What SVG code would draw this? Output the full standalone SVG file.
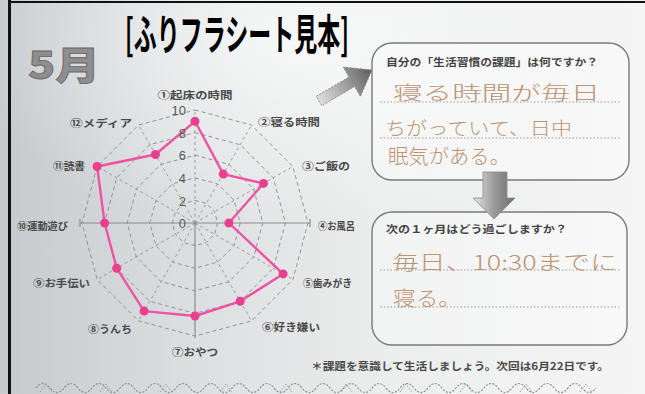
<svg xmlns="http://www.w3.org/2000/svg" width="645" height="394" viewBox="0 0 645 394">
<defs>
<linearGradient id="bg" x1="0" y1="0" x2="1" y2="0">
<stop offset="0" stop-color="#c6cacd"/>
<stop offset="0.3" stop-color="#dcdfe0"/>
<stop offset="0.6" stop-color="#eceded"/>
<stop offset="1" stop-color="#f5f5f5"/>
</linearGradient>
<radialGradient id="hl" cx="0.45" cy="0.1" r="0.5">
<stop offset="0" stop-color="#ffffff" stop-opacity="0.7"/>
<stop offset="1" stop-color="#ffffff" stop-opacity="0"/>
</radialGradient>
<linearGradient id="arrD" x1="0" y1="0" x2="1" y2="0">
<stop offset="0" stop-color="#e6e6e6"/>
<stop offset="0.5" stop-color="#9a9a9a"/>
<stop offset="1" stop-color="#6e6e6e"/>
</linearGradient>
<linearGradient id="arrA" x1="316" y1="101" x2="372" y2="70" gradientUnits="userSpaceOnUse">
<stop offset="0" stop-color="#e4e4e4"/>
<stop offset="0.55" stop-color="#9c9c9c"/>
<stop offset="1" stop-color="#5e5e5e"/>
</linearGradient>
<style>
.lbl{font-family:"Noto Sans CJK JP","Noto Sans",sans-serif;font-size:10.5px;fill:#4a4a4a;font-weight:bold}
.num{font-family:"Liberation Sans",Arial,sans-serif;font-size:13px;fill:#5a5a5a;text-anchor:end}
.ring{fill:none;stroke:#8a8a8a;stroke-width:0.9;stroke-dasharray:4 3}
.spoke{stroke:#8a8a8a;stroke-width:0.8;stroke-dasharray:3 3}
.axis{stroke:#8c8c8c;stroke-width:1.2}
.box{fill:#ffffff;fill-opacity:0.35;stroke:#7a7a7a;stroke-width:1.4}
.dot{stroke:#9a9a9a;stroke-width:1;stroke-dasharray:1.5 2}
.q{font-family:"Noto Sans CJK JP","Noto Sans",sans-serif;font-size:10.5px;fill:#444;font-weight:bold}
.hw{font-family:"Noto Sans CJK JP","Noto Sans",sans-serif;font-weight:300;fill:#bb9272}
.data{fill:none;stroke:#ef52a3;stroke-width:2.4;stroke-linejoin:round}
.pt{fill:#e8408f}
</style>
</defs>

<rect width="645" height="394" fill="url(#bg)"/>
<rect width="645" height="394" fill="url(#hl)"/>
<line x1="9.5" y1="0" x2="9.5" y2="394" stroke="#111" stroke-width="3"/>
<line x1="8" y1="2" x2="645" y2="2" stroke="#111" stroke-width="2"/>

<g id="month">
<text x="28" y="79" font-family="'Noto Sans CJK JP',sans-serif" font-weight="900" font-size="38" fill="#8e8e8e" stroke="#666" stroke-width="0.8" textLength="72" lengthAdjust="spacingAndGlyphs">5月</text>
</g>

<g id="title">
<text transform="translate(125,50) scale(0.615,1)" x="0" y="0" font-family="'Noto Sans CJK JP',sans-serif" font-weight="bold" font-size="42" fill="#000" textLength="364" lengthAdjust="spacingAndGlyphs">[ふりフラシート見本]</text>
</g>

<g id="radar">
<g transform="translate(195,223)">
<polygon class="ring" points="0,-113 56.5,-97.9 97.9,-56.5 113,0 97.9,56.5 56.5,97.9 0,113 -56.5,97.9 -97.9,56.5 -113,0 -97.9,-56.5 -56.5,-97.9"/>
<polygon class="ring" points="0,-90.4 45.2,-78.3 78.3,-45.2 90.4,0 78.3,45.2 45.2,78.3 0,90.4 -45.2,78.3 -78.3,45.2 -90.4,0 -78.3,-45.2 -45.2,-78.3"/>
<polygon class="ring" points="0,-67.8 33.9,-58.7 58.7,-33.9 67.8,0 58.7,33.9 33.9,58.7 0,67.8 -33.9,58.7 -58.7,33.9 -67.8,0 -58.7,-33.9 -33.9,-58.7"/>
<polygon class="ring" points="0,-45.2 22.6,-39.1 39.1,-22.6 45.2,0 39.1,22.6 22.6,39.1 0,45.2 -22.6,39.1 -39.1,22.6 -45.2,0 -39.1,-22.6 -22.6,-39.1"/>
<polygon class="ring" points="0,-22.6 11.3,-19.6 19.6,-11.3 22.6,0 19.6,11.3 11.3,19.6 0,22.6 -11.3,19.6 -19.6,11.3 -22.6,0 -19.6,-11.3 -11.3,-19.6"/>
<line class="spoke" x1="0" y1="0" x2="56.5" y2="-97.9"/>
<line class="spoke" x1="0" y1="0" x2="97.9" y2="-56.5"/>
<line class="spoke" x1="0" y1="0" x2="97.9" y2="56.5"/>
<line class="spoke" x1="0" y1="0" x2="56.5" y2="97.9"/>
<line class="spoke" x1="0" y1="0" x2="-56.5" y2="97.9"/>
<line class="spoke" x1="0" y1="0" x2="-97.9" y2="56.5"/>
<line class="spoke" x1="0" y1="0" x2="-97.9" y2="-56.5"/>
<line class="spoke" x1="0" y1="0" x2="-56.5" y2="-97.9"/>
<line class="spoke" x1="0" y1="0" x2="0" y2="-113"/>
<line class="axis" x1="-115" y1="0" x2="115" y2="0"/>
<line class="axis" x1="0" y1="0" x2="0" y2="115"/>
<line class="axis" x1="115" y1="-4" x2="115" y2="4"/>
<line class="axis" x1="-115" y1="-4" x2="-115" y2="4"/>
<polygon class="data" points="0,-101.7 28.3,-48.9 68.5,-39.6 33.9,0 88.1,50.9 45.2,78.3 0,93 -50.9,88.1 -78.3,45.2 -90.4,0 -97.9,-56.5 -39.6,-68.5"/>
<g class="pt">
<circle cx="0" cy="-101.7" r="4.5"/>
<circle cx="28.3" cy="-48.9" r="4.5"/>
<circle cx="68.5" cy="-39.6" r="4.5"/>
<circle cx="33.9" cy="0" r="4.5"/>
<circle cx="88.1" cy="50.9" r="4.5"/>
<circle cx="45.2" cy="78.3" r="4.5"/>
<circle cx="0" cy="93" r="4.5"/>
<circle cx="-50.9" cy="88.1" r="4.5"/>
<circle cx="-78.3" cy="45.2" r="4.5"/>
<circle cx="-90.4" cy="0" r="4.5"/>
<circle cx="-97.9" cy="-56.5" r="4.5"/>
<circle cx="-39.6" cy="-68.5" r="4.5"/>
</g>
</g>
<text class="num" x="186" y="115">10</text>
<text class="num" x="186" y="138">8</text>
<text class="num" x="186" y="160">6</text>
<text class="num" x="186" y="183">4</text>
<text class="num" x="186" y="206">2</text>
<text class="num" x="186" y="228">0</text>
<text class="lbl" x="195" y="99" text-anchor="middle" textLength="75" lengthAdjust="spacingAndGlyphs">①起床の時間</text>
<text class="lbl" x="258" y="126" textLength="62" lengthAdjust="spacingAndGlyphs">②寝る時間</text>
<text class="lbl" x="302" y="170" textLength="48" lengthAdjust="spacingAndGlyphs">③ご飯の</text>
<text class="lbl" x="318" y="230" textLength="37" lengthAdjust="spacingAndGlyphs">④お風呂</text>
<text class="lbl" x="303" y="287" textLength="49" lengthAdjust="spacingAndGlyphs">⑤歯みがき</text>
<text class="lbl" x="262" y="331" textLength="58" lengthAdjust="spacingAndGlyphs">⑥好き嫌い</text>
<text class="lbl" x="195" y="356" text-anchor="middle" textLength="46" lengthAdjust="spacingAndGlyphs">⑦おやつ</text>
<text class="lbl" x="88" y="333" textLength="44" lengthAdjust="spacingAndGlyphs">⑧うんち</text>
<text class="lbl" x="33" y="287" textLength="57" lengthAdjust="spacingAndGlyphs">⑨お手伝い</text>
<text class="lbl" x="17" y="230" textLength="51" lengthAdjust="spacingAndGlyphs">⑩運動遊び</text>
<text class="lbl" x="53" y="170" textLength="32" lengthAdjust="spacingAndGlyphs">⑪読書</text>
<text class="lbl" x="70" y="127" textLength="62" lengthAdjust="spacingAndGlyphs">⑫メディア</text>
</g>

<g id="box-issue">
<rect class="box" x="372" y="43" width="257" height="137" rx="20"/>
<text class="q" x="386" y="66" textLength="212" lengthAdjust="spacingAndGlyphs">自分の「生活習慣の課題」は何ですか？</text>
<line class="dot" x1="380" y1="102" x2="620" y2="102"/>
<line class="dot" x1="380" y1="138" x2="620" y2="138"/>
<text class="hw" x="393" y="100" font-size="19" textLength="207" lengthAdjust="spacingAndGlyphs">寝る時間が毎日</text>
<text class="hw" x="385" y="135" font-size="18" textLength="187" lengthAdjust="spacingAndGlyphs">ちがっていて、日中</text>
<text class="hw" x="388" y="164" font-size="20" textLength="122" lengthAdjust="spacingAndGlyphs">眠気がある。</text>
</g>

<g id="box-plan">
<rect class="box" x="372" y="212" width="255" height="133" rx="20"/>
<text class="q" x="386" y="233" textLength="181" lengthAdjust="spacingAndGlyphs">次の１ヶ月はどう過ごしますか？</text>
<line class="dot" x1="380" y1="270" x2="620" y2="270"/>
<line class="dot" x1="380" y1="307" x2="620" y2="307"/>
<text class="hw" x="392" y="270" font-size="20" textLength="225" lengthAdjust="spacingAndGlyphs">毎日、10:30までに</text>
<text class="hw" x="393" y="306" font-size="20" textLength="68" lengthAdjust="spacingAndGlyphs">寝る。</text>
</g>

<g id="connectors">
<polygon points="316.2,96.3 349,77.1 343.2,67.1 372,70 360.4,96.5 354.6,86.5 321.8,105.7" fill="url(#arrA)" stroke="#8a8a8a" stroke-width="1" stroke-dasharray="2 1.5"/>
<polygon points="483,172 507,172 507,198 515,198 494,219 473,198 483,198" fill="url(#arrD)" stroke="#8a8a8a" stroke-width="0.8"/>
</g>

<g id="footer">
<text x="311" y="370" font-family="'Noto Sans CJK JP',sans-serif" font-size="10.5" fill="#4a4a4a" font-weight="bold" textLength="298" lengthAdjust="spacingAndGlyphs">＊課題を意識して生活しましょう。次回は6月22日です。</text>
<path d="M36,388 q7,-9 14,0 t14,0 t14,0 t14,0 t14,0 t14,0 t14,0 t14,0 t14,0 t14,0 t14,0 t14,0 t14,0 t14,0 t14,0 t14,0 t14,0 t14,0 t14,0 t14,0 t14,0 t14,0 t14,0 t14,0 t14,0 t14,0 t14,0 t14,0 t14,0 t14,0 t14,0 t14,0 t14,0 t14,0 t14,0 t14,0 t14,0 t14,0 t14,0 t14,0" fill="none" stroke="#8f8f8f" stroke-width="1.2" stroke-dasharray="2 1.5"/>
<path d="M40,392 l6,-8 l6,8 M100,392 l6,-8 l6,8 M160,392 l6,-8 l6,8 M220,392 l6,-8 l6,8 M280,392 l6,-8 l6,8 M340,392 l6,-8 l6,8 M400,392 l6,-8 l6,8 M460,392 l6,-8 l6,8 M520,392 l6,-8 l6,8 M580,392 l6,-8 l6,8" fill="none" stroke="#9a9a9a" stroke-width="1" stroke-dasharray="1.5 1.5"/>
</g>
</svg>
